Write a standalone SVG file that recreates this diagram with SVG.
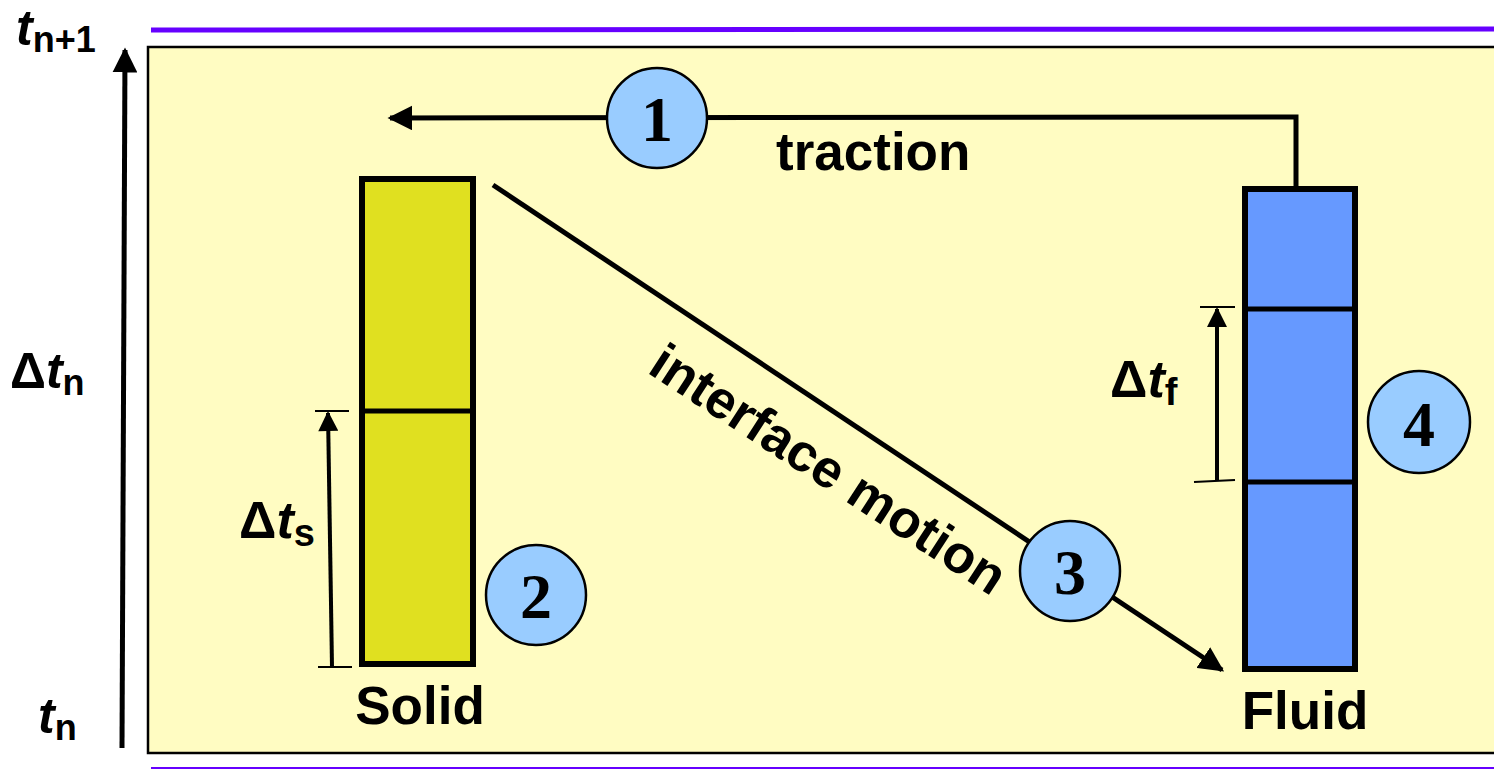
<svg xmlns="http://www.w3.org/2000/svg" width="1494" height="770" viewBox="0 0 1494 770">
<style>
.lbl{font-family:"Liberation Sans",Arial,sans-serif;font-weight:bold;fill:#000}
.num{font-family:"Liberation Serif","Times New Roman",serif;font-weight:bold;font-size:64px;fill:#000;text-anchor:middle}
.circ{fill:#99CCFF;stroke:#000;stroke-width:2.5}
.ln{stroke:#000;stroke-width:5;fill:none}
.tick{stroke:#000;stroke-width:2;fill:none}
</style>
<defs>
<marker id="ah" viewBox="0 0 10 10" refX="9" refY="5" markerWidth="5" markerHeight="5" orient="auto" markerUnits="strokeWidth">
<path d="M0,0 L10,5 L0,10 z" fill="#000"/>
</marker>
<marker id="ahs" viewBox="0 0 10 10" refX="9" refY="5" markerWidth="6" markerHeight="5" orient="auto" markerUnits="strokeWidth">
<path d="M0,0 L10,5 L0,10 z" fill="#000"/>
</marker>
</defs>
<rect width="1494" height="770" fill="#fff"/>
<line x1="151" y1="30" x2="1494" y2="29" stroke="#6600FF" stroke-width="5"/>
<line x1="151" y1="768" x2="1494" y2="768" stroke="#6600FF" stroke-width="2"/>
<rect id="bg" x="148" y="47" width="1352" height="706" fill="#FFFCC2" stroke="#000" stroke-width="2.5"/>

<g id="timeaxis">
<line class="ln" x1="122" y1="748" x2="125" y2="50" marker-end="url(#ah)"/>
<text class="lbl" x="16" y="45"><tspan font-size="50" font-style="italic">t</tspan><tspan font-size="36" dy="7">n+1</tspan></text>
<text class="lbl" x="10" y="388"><tspan font-size="50">Δ</tspan><tspan font-size="50" font-style="italic">t</tspan><tspan font-size="36" dy="7">n</tspan></text>
<text class="lbl" x="38" y="733"><tspan font-size="50" font-style="italic">t</tspan><tspan font-size="36" dy="7">n</tspan></text>
</g>

<g id="solid">
<rect x="362" y="179" width="111" height="485" fill="#E0E020" stroke="#000" stroke-width="6"/>
<line x1="362" y1="411" x2="473" y2="411" stroke="#000" stroke-width="5"/>
<text class="lbl" x="420" y="724" font-size="53" text-anchor="middle">Solid</text>
</g>

<g id="fluid">
<rect x="1245" y="189" width="110" height="480" fill="#6699FF" stroke="#000" stroke-width="6"/>
<line x1="1245" y1="309" x2="1355" y2="309" stroke="#000" stroke-width="5"/>
<line x1="1245" y1="482" x2="1355" y2="482" stroke="#000" stroke-width="5"/>
<text class="lbl" x="1305" y="729" font-size="53" text-anchor="middle">Fluid</text>
</g>

<g id="dts">
<line class="tick" x1="315" y1="411" x2="349" y2="411"/>
<line class="tick" x1="318" y1="667" x2="352" y2="667"/>
<line x1="332" y1="667" x2="328" y2="413" stroke="#000" stroke-width="4" marker-end="url(#ahs)"/>
<text class="lbl" x="239" y="538"><tspan font-size="52">Δ</tspan><tspan font-size="52" font-style="italic">t</tspan><tspan font-size="38" dy="8">s</tspan></text>
</g>

<g id="dtf">
<line class="tick" x1="1200" y1="307" x2="1235" y2="307"/>
<line class="tick" x1="1194" y1="482" x2="1235" y2="480"/>
<line x1="1217" y1="480" x2="1217" y2="309" stroke="#000" stroke-width="4" marker-end="url(#ahs)"/>
<text class="lbl" x="1110" y="397"><tspan font-size="52">Δ</tspan><tspan font-size="52" font-style="italic">t</tspan><tspan font-size="38" dy="8">f</tspan></text>
</g>

<g id="connectors">
<polyline class="ln" points="1296,189 1296,117 390,118" marker-end="url(#ah)"/>
<line class="ln" x1="493" y1="185" x2="1222" y2="670" marker-end="url(#ah)"/>
</g>

<g id="c1"><circle class="circ" cx="657" cy="118" r="50"/><text class="num" x="657" y="141">1</text></g>
<g id="c2"><circle class="circ" cx="536" cy="595" r="50"/><text class="num" x="536" y="618">2</text></g>
<g id="c3"><circle class="circ" cx="1070" cy="571" r="50"/><text class="num" x="1070" y="594">3</text></g>
<g id="c4"><circle class="circ" cx="1419" cy="422" r="51"/><text class="num" x="1419" y="446">4</text></g>

<text class="lbl" x="776" y="170" font-size="53">traction</text>
<text class="lbl" font-size="53" transform="translate(646,372) rotate(33)">interface motion</text>
</svg>
